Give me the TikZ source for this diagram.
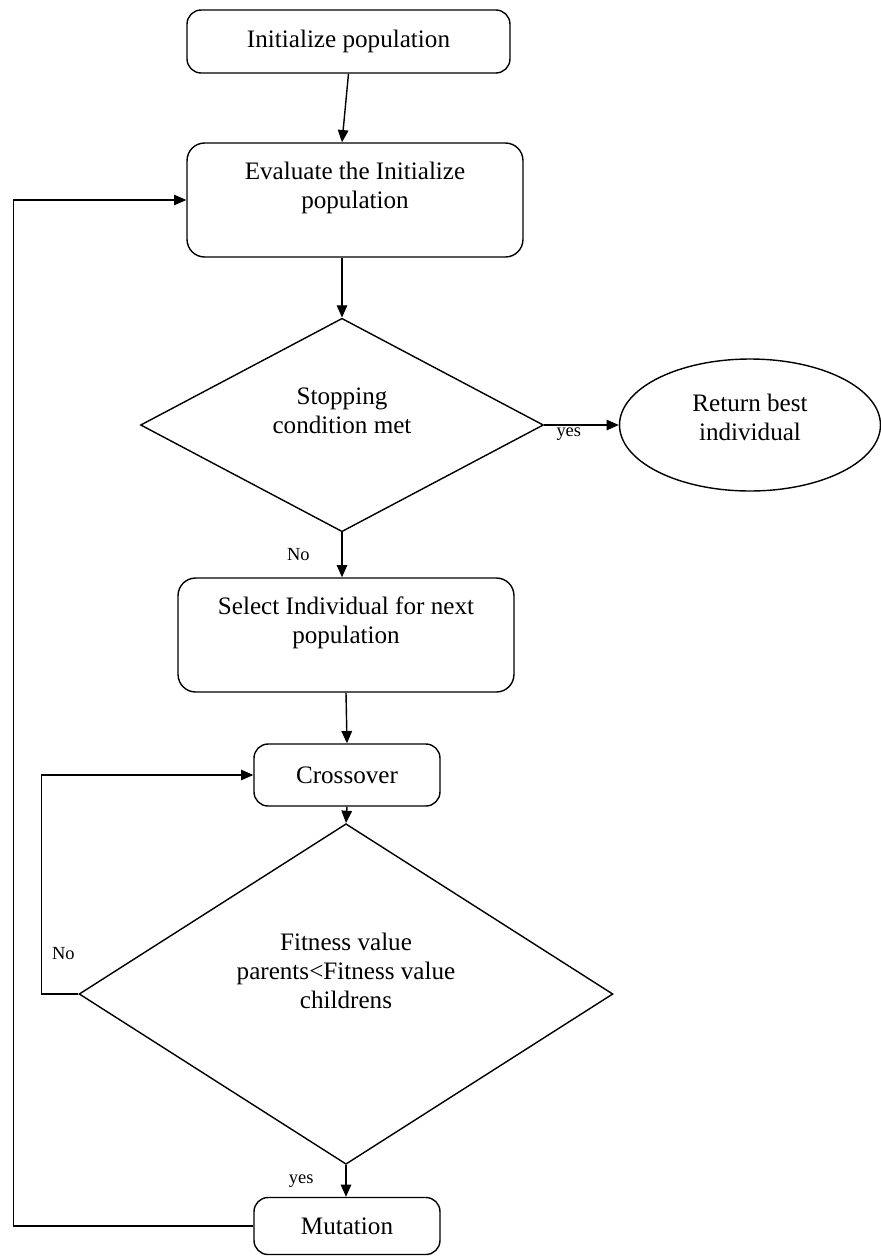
\documentclass[tikz,border=0pt]{standalone}
\usepackage{fontspec}
\setmainfont{Liberation Serif}
\usetikzlibrary{shapes.geometric,arrows.meta}
\tikzset{
  box/.style={draw, rounded corners=8pt, line width=0.8pt, align=center, inner sep=2pt, font=\fontsize{14.3}{16.5}\selectfont},
  decision/.style={draw, diamond, line width=0.8pt, align=center, inner sep=0pt, font=\fontsize{14.3}{16.5}\selectfont},
  ending/.style={draw, ellipse, line width=0.8pt, align=center, inner sep=0pt, font=\fontsize{14.3}{16.5}\selectfont},
  flow/.style={-{Triangle[length=7pt,width=6pt]}, line width=0.8pt},
  back/.style={flow, line width=0.6pt},
  tag/.style={font=\fontsize{10.5}{12}\selectfont, inner sep=1pt}
}
\begin{document}
\begin{tikzpicture}[x=0.02cm, y=-0.02cm] % pixel grid of the flowchart
\useasboundingbox (0,0) rectangle (881,1258);
% blocks
\node[box, minimum width=6.46cm, minimum height=1.26cm] (init) at (348.5,41.5) {Initialize population};
\node[box, rounded corners=10pt, minimum width=6.72cm, minimum height=2.28cm] (eval) at (355,200) {Evaluate the Initialize\\population\\\mbox{}};
\node[decision, minimum width=8.06cm, minimum height=3.9cm] (stop) at (342,425) {Stopping\\condition met\\\mbox{}};
\node[ending, minimum width=5.22cm, minimum height=2.64cm] (best) at (750,425) {Return best\\individual\\[-8pt]\mbox{}};
\node[box, rounded corners=10pt, minimum width=6.72cm, minimum height=2.28cm] (select) at (346,635) {Select Individual for next\\population\\\mbox{}};
\node[box, minimum width=3.72cm, minimum height=1.24cm] (cross) at (347,775) {Crossover};
\node[decision, minimum width=10.68cm, minimum height=5.84cm] (fit) at (346,994) {Fitness value\\parents<Fitness value\\childrens\\[10pt]\mbox{}};
\node[box, minimum width=3.72cm, minimum height=1.14cm] (mut) at (347,1226) {Mutation};

% main line
\draw[flow] (init.south) -- (eval.north -| stop.north);
\draw[flow] (eval.south -| stop.north) -- (stop.north);
\draw[flow] (stop.east) -- (best.west) node[tag, pos=0.33, below] {yes};
\draw[flow] (stop.south) -- (select.north -| stop.south) node[tag, midway, left=0.6cm] {No};
\draw[flow] (select.south) -- (cross.north);
\draw[flow] (cross.south) -- (fit.north);
\draw[flow] (fit.south) -- (mut.north -| fit.south) node[tag, midway, left=0.6cm] {yes};

% loops back
\draw[back] (fit.west) -- ++(-37,0) coordinate (nocorner) |- (cross.west);
\node[tag] (notag) at ([shift={(22,-40)}]nocorner) {No};
\draw[back] (mut.west) -- ++(-240,0) |- (eval.west);
\end{tikzpicture}
\end{document}
